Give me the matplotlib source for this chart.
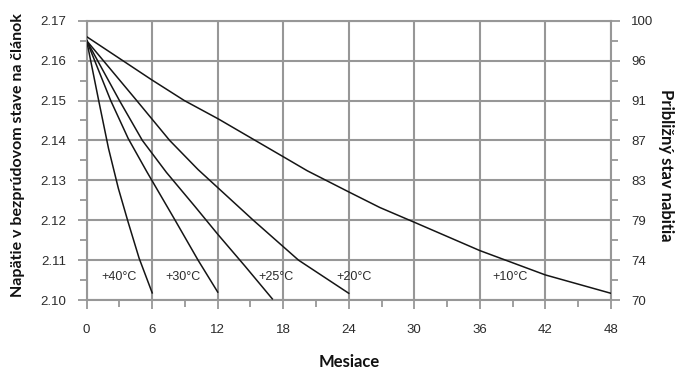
import matplotlib
matplotlib.use('Agg')
import matplotlib.pyplot as plt
from matplotlib.ticker import MultipleLocator

months_40 = [0, 1.1, 2.0, 2.9, 3.8, 4.8, 6.0]
volts_40 = [2.165, 2.150, 2.138, 2.128, 2.1195, 2.1105, 2.1018]

months_30 = [0, 2.2, 3.8, 5.5, 8.1, 10.2, 12.0]
volts_30 = [2.165, 2.150, 2.1405, 2.1322, 2.120, 2.110, 2.1020]

months_25 = [0, 3.0, 5.1, 7.3, 9.9, 12.0, 14.5, 17.0]
volts_25 = [2.165, 2.150, 2.140, 2.132, 2.1235, 2.1165, 2.1085, 2.1003]

months_20 = [0, 4.58, 7.6, 10.2, 15.26, 19.4, 24.0]
volts_20 = [2.165, 2.150, 2.140, 2.1327, 2.120, 2.110, 2.1017]

months_10 = [0, 5.95, 8.94, 12.05, 18.2, 20.2, 24.0, 26.84, 30.0, 36.0, 42.0, 48.0]
volts_10 = [2.166, 2.1552, 2.150, 2.1454, 2.1356, 2.1324, 2.1271, 2.1232, 2.1195, 2.1124, 2.1063, 2.1017]

curves = [(months_40, volts_40), (months_30, volts_30), (months_25, volts_25),
          (months_20, volts_20), (months_10, volts_10)]

temp_labels = ['+40°C', '+30°C', '+25°C', '+20°C', '+10°C']
temp_label_x = [3.0, 8.85, 17.3, 24.5, 38.8]
temp_label_y = 2.1059

x_ticks = [0, 6, 12, 18, 24, 30, 36, 42, 48]
v_ticks = [2.10, 2.11, 2.12, 2.13, 2.14, 2.15, 2.16, 2.17]
soc_labels = ['70', '74', '79', '83', '87', '91', '96', '100']

GRID = '#979797'
TXT = '#2b2b2b'
TICK_FONT = 'Liberation Sans'
LABEL_FONT = 'Lato'

fig = plt.figure(figsize=(6.75, 3.7), dpi=100)
ax = fig.add_axes([0.1284, 0.189, 0.7766, 0.755])

for m, v in curves:
    ax.plot(m, v, color='#151515', lw=1.1, zorder=3)

for lab, xx in zip(temp_labels, temp_label_x):
    ax.text(xx, temp_label_y, lab, ha='center', va='center', fontsize=9,
            family=TICK_FONT, color=TXT, zorder=4)

ax.set_xlim(0, 48)
ax.set_ylim(2.10, 2.17)
ax.set_xticks(x_ticks)
ax.set_yticks(v_ticks)
ax.set_yticklabels([f'{t:.2f}' for t in v_ticks])
ax.xaxis.set_minor_locator(MultipleLocator(3))
ax.yaxis.set_minor_locator(MultipleLocator(0.005))

ax.set_axisbelow(True)
ax.grid(True, which='major', color=GRID, lw=1.5)
for sp in ax.spines.values():
    sp.set_color(GRID)
    sp.set_linewidth(1.5)

ax.tick_params(which='major', length=6.5, width=1.3, color=GRID, labelcolor=TXT,
               labelsize=9.5)
ax.tick_params(which='minor', length=5, width=1.3, color=GRID)
ax.tick_params(axis='x', which='major', pad=11)
ax.tick_params(axis='y', which='major', pad=8)
for lbl in ax.get_xticklabels() + ax.get_yticklabels():
    lbl.set_family(TICK_FONT)

ax2 = ax.twinx()
ax2.set_ylim(ax.get_ylim())
ax2.set_yticks(v_ticks)
ax2.set_yticklabels(soc_labels)
ax2.yaxis.set_minor_locator(MultipleLocator(0.005))
for sp in ax2.spines.values():
    sp.set_visible(False)
ax2.tick_params(which='major', length=6.5, width=1.3, color=GRID, labelcolor=TXT,
                labelsize=9.5, pad=8)
ax2.tick_params(which='minor', length=5, width=1.3, color=GRID)
for lbl in ax2.get_yticklabels():
    lbl.set_family(TICK_FONT)

fig.text(0.027, 0.581, 'Napätie v bezprúdovom stave na článok', rotation=90,
         ha='center', va='center', fontsize=11.5, fontweight='bold',
         family=LABEL_FONT, color='#111111')
fig.text(0.986, 0.554, 'Približný stav nabitia', rotation=-90,
         ha='center', va='center', fontsize=12, fontweight='bold',
         family=LABEL_FONT, color='#111111')
fig.text(0.517, 0.022, 'Mesiace', ha='center', va='center', fontsize=12,
         fontweight='bold', family=LABEL_FONT, color='#111111')

fig.savefig('out.png', dpi=100, facecolor='white')
